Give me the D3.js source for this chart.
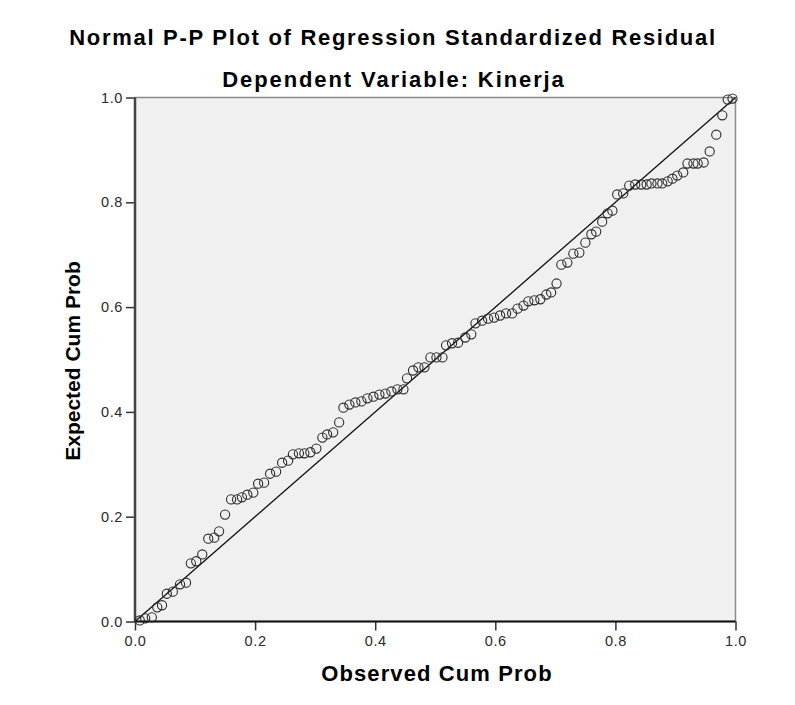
<!DOCTYPE html>
<html>
<head>
<meta charset="utf-8">
<script src="https://cdn.jsdelivr.net/npm/d3@7"></script>
<style>
  body { margin: 0; background: #fff; }
  text { font-family: "Liberation Sans", Arial, sans-serif; }
</style>
</head>
<body>
<svg width="795" height="705"></svg>
<script>
// observed cum prob (x) and expected cum prob (y)
const observed = [
  0.008, 0.017, 0.028, 0.037, 0.045, 0.053, 0.063, 0.075, 0.085, 0.093,
  0.102, 0.112, 0.122, 0.132, 0.140, 0.150, 0.160, 0.170, 0.178, 0.187,
  0.197, 0.205, 0.215, 0.225, 0.235, 0.245, 0.255, 0.263, 0.273, 0.282,
  0.292, 0.302, 0.312, 0.320, 0.330, 0.340, 0.347, 0.357, 0.367, 0.377,
  0.387, 0.397, 0.407, 0.417, 0.427, 0.437, 0.447, 0.453, 0.463, 0.472,
  0.482, 0.492, 0.502, 0.512, 0.518, 0.528, 0.538, 0.550, 0.560, 0.567,
  0.578, 0.588, 0.598, 0.608, 0.618, 0.628, 0.637, 0.647, 0.655, 0.665,
  0.675, 0.685, 0.693, 0.702, 0.710, 0.720, 0.730, 0.740, 0.750, 0.760,
  0.768, 0.778, 0.787, 0.795, 0.803, 0.813, 0.823, 0.833, 0.843, 0.852,
  0.860, 0.870, 0.878, 0.887, 0.895, 0.903, 0.913, 0.920, 0.930, 0.937,
  0.947, 0.957, 0.968, 0.978, 0.987, 0.995
];
const expected = [
  0.002, 0.006, 0.008, 0.027, 0.031, 0.053, 0.057, 0.071, 0.074, 0.111,
  0.115, 0.128, 0.158, 0.160, 0.172, 0.204, 0.233, 0.233, 0.237, 0.242,
  0.246, 0.263, 0.265, 0.282, 0.286, 0.303, 0.307, 0.319, 0.321, 0.321,
  0.323, 0.330, 0.351, 0.357, 0.361, 0.380, 0.408, 0.414, 0.418, 0.420,
  0.426, 0.429, 0.433, 0.435, 0.439, 0.443, 0.443, 0.464, 0.479, 0.485,
  0.485, 0.504, 0.504, 0.504, 0.527, 0.531, 0.532, 0.542, 0.548, 0.569,
  0.574, 0.578, 0.580, 0.584, 0.588, 0.588, 0.597, 0.603, 0.611, 0.613,
  0.615, 0.624, 0.628, 0.645, 0.681, 0.685, 0.702, 0.704, 0.723, 0.739,
  0.744, 0.763, 0.779, 0.784, 0.815, 0.817, 0.832, 0.834, 0.834, 0.834,
  0.836, 0.836, 0.836, 0.840, 0.845, 0.851, 0.857, 0.874, 0.874, 0.874,
  0.876, 0.897, 0.929, 0.966, 0.996, 0.998
];
const tickValues = [0, 0.2, 0.4, 0.6, 0.8, 1.0];
const titleText = "Normal P-P Plot of Regression Standardized Residual";
const subtitleText = "Dependent Variable: Kinerja";
const xLabel = "Observed Cum Prob";
const yLabel = "Expected Cum Prob";

const points = observed.map((v, i) => ({ x: v, y: expected[i] }));

const svg = d3.select("svg");
const plotLeft = 135, plotRight = 735.5, plotTop = 97.5, plotBottom = 621.5;

const x = d3.scaleLinear().domain([0, 1]).range([plotLeft, plotRight]);
const y = d3.scaleLinear().domain([0, 1]).range([plotBottom, plotTop]);

// plot background and frame
svg.append("rect")
  .attr("x", plotLeft).attr("y", plotTop)
  .attr("width", plotRight - plotLeft).attr("height", plotBottom - plotTop)
  .attr("fill", "#f0f0f0")
  .attr("stroke", "#8a8a8a").attr("stroke-width", 1.5);

// titles
svg.append("text")
  .attr("x", 393).attr("y", 45)
  .attr("text-anchor", "middle")
  .attr("font-size", 22).attr("font-weight", "bold")
  .attr("letter-spacing", 1.7)
  .attr("fill", "#000")
  .text(titleText);

svg.append("text")
  .attr("x", 394).attr("y", 87)
  .attr("text-anchor", "middle")
  .attr("font-size", 22).attr("font-weight", "bold")
  .attr("letter-spacing", 1.9)
  .attr("fill", "#000")
  .text(subtitleText);

// axes
const xAxis = svg.append("g")
  .attr("transform", `translate(0,${plotBottom})`)
  .call(d3.axisBottom(x).tickValues(tickValues).tickFormat(d3.format(".1f")).tickSize(9).tickPadding(5));
const yAxis = svg.append("g")
  .attr("transform", `translate(${plotLeft},0)`)
  .call(d3.axisLeft(y).tickValues(tickValues).tickFormat(d3.format(".1f")).tickSize(9).tickPadding(3));

[xAxis, yAxis].forEach(g => {
  g.select(".domain").remove();
  g.selectAll("line").attr("stroke", "#333").attr("stroke-width", 1.5);
  g.selectAll("text")
    .attr("font-size", 14.5)
    .attr("letter-spacing", 0.6)
    .attr("fill", "#2a2a2a")
    .style("font-family", "Liberation Sans, Arial, sans-serif");
});

// axis lines (left and bottom darker)
svg.append("line")
  .attr("x1", plotLeft).attr("x2", plotLeft).attr("y1", plotTop).attr("y2", plotBottom)
  .attr("stroke", "#444").attr("stroke-width", 2.5);
svg.append("line")
  .attr("x1", plotLeft).attr("x2", plotRight).attr("y1", plotBottom).attr("y2", plotBottom)
  .attr("stroke", "#111").attr("stroke-width", 2);

// reference diagonal
svg.append("line")
  .attr("x1", x(0)).attr("y1", y(0))
  .attr("x2", x(1)).attr("y2", y(1))
  .attr("stroke", "#111").attr("stroke-width", 1.3);

// points
svg.append("g")
  .selectAll("circle")
  .data(points)
  .join("circle")
  .attr("cx", d => x(d.x))
  .attr("cy", d => y(d.y))
  .attr("r", 4.6)
  .attr("fill", "none")
  .attr("stroke", "#2a2a2a")
  .attr("stroke-width", 1.1);

// axis titles
svg.append("text")
  .attr("x", 437).attr("y", 681)
  .attr("text-anchor", "middle")
  .attr("font-size", 22).attr("font-weight", "bold")
  .attr("letter-spacing", 1.1)
  .attr("fill", "#000")
  .text(xLabel);

svg.append("text")
  .attr("transform", "translate(80,361) rotate(-90)")
  .attr("text-anchor", "middle")
  .attr("font-size", 21).attr("font-weight", "bold")
  .attr("fill", "#000")
  .text(yLabel);
</script>
</body>
</html>
